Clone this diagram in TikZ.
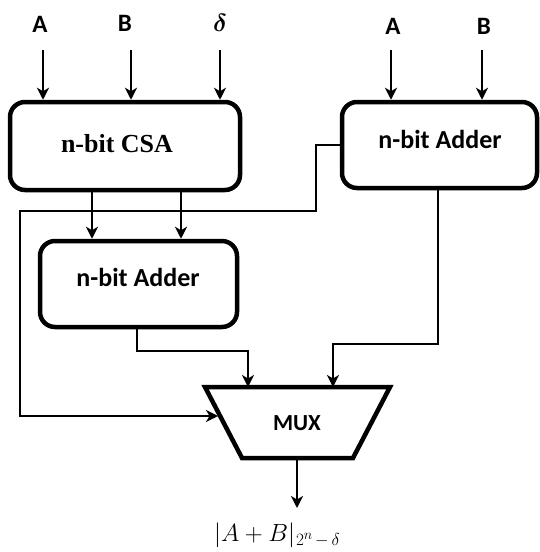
\documentclass[tikz,border=0pt]{standalone}
\usepackage{bm}
\usepackage{fontspec}
\setmainfont{Liberation Serif}
\newfontfamily\calfont{Carlito}
\usetikzlibrary{arrows.meta}
\tikzset{
  blk/.style={draw, line width=4.5pt, rounded corners=15pt, inner sep=0pt},
  arr/.style={line width=1.9pt, -{Stealth[length=12pt, width=12pt, inset=3.5pt]}},
  warr/.style={line width=1.5pt, -{Stealth[length=12pt, width=12pt, inset=3.5pt]}},
  inlab/.style={font=\calfont\bfseries\fontsize{25}{29}\selectfont, anchor=base, inner sep=0pt},
  cal/.style={font=\calfont\bfseries\fontsize{26}{30}\selectfont, anchor=base, inner sep=0pt},
  tms/.style={font=\bfseries\fontsize{26}{30}\selectfont, anchor=base, inner sep=0pt},
}
\newcommand{\subsz}[1]{\fontsize{#1}{#1}\selectfont}
\begin{document}
\begin{tikzpicture}[x=1pt, y=-1pt]
\useasboundingbox (0,0) rectangle (539,552);
% boxes
\node[blk, minimum width=230pt, minimum height=88pt] (csa) at (125,146) {};
\node[blk, minimum width=195pt, minimum height=86pt] (addR) at (439.5,145) {};
\node[blk, minimum width=197pt, minimum height=86pt] (addL) at (138.5,284) {};
\node[tms] (csat) at (117,152) {n-bit CSA};
\node[cal] (addRt) at (440,148) {n-bit Adder};
\node[cal] (addLt) at (138,286) {n-bit Adder};
% MUX
\coordinate (m1) at (205,387);
\coordinate (m2) at (390,387);
\coordinate (m3) at (353,458);
\coordinate (m4) at (242,458);
\draw[line width=4.5pt, line join=miter] (m1) -- (m2) -- (m3) -- (m4) -- cycle;
\node[font=\calfont\bfseries\fontsize{23}{27}\selectfont, anchor=base, inner sep=0pt] (muxt) at (297,430) {MUX};
% input labels
\node[inlab] (la1) at (40,32) {A};
\node[inlab] (lb1) at (125,31) {B};
\node[anchor=base, inner sep=0pt, font=\fontsize{25}{29}\selectfont] (ld1) at (220,31) {$\bm{\delta}$};
\node[inlab] (la2) at (393,34) {A};
\node[inlab] (lb2) at (484,34) {B};
% input arrows
\coordinate (ia1) at (43,50);
\coordinate (ib1) at (131,50);
\coordinate (id1) at (220,50);
\coordinate (ia2) at (391,50);
\coordinate (ib2) at (482,50);
\draw[arr] (ia1) -- (ia1 |- csa.north);
\draw[arr] (ib1) -- (ib1 |- csa.north);
\draw[arr] (id1) -- (id1 |- csa.north);
\draw[arr] (ia2) -- (ia2 |- addR.north);
\draw[arr] (ib2) -- (ib2 |- addR.north);
% CSA to lower adder
\coordinate (c1) at (92,0);
\coordinate (c2) at (181,0);
\draw[arr] (c1 |- csa.south) -- (c1 |- addL.north);
\draw[arr] (c2 |- csa.south) -- (c2 |- addL.north);
% right adder to MUX left input
\coordinate (r1) at (316,145);
\coordinate (r2) at (316,211);
\coordinate (r3) at (20,211);
\coordinate (r4) at (20,416);
\coordinate (mL) at (218,416);
\draw[warr] (addR.west |- r1) -- (r1) -- (r2) -- (r3) -- (r4) -- (mL);
% lower adder to MUX
\coordinate (l1) at (137,351);
\coordinate (l2) at (248,351);
\draw[warr] (l1 |- addL.south) -- (l1) -- (l2) -- (l2 |- m1);
% right adder bottom to MUX
\coordinate (q1) at (438,344);
\coordinate (q2) at (333,344);
\draw[warr] (q1 |- addR.south) -- (q1) -- (q2) -- (q2 |- m1);
% output
\coordinate (o1) at (297,458);
\coordinate (o2) at (297,508);
\draw[arr] (o1) -- (o2);
\node[anchor=base west, inner sep=0pt, font=\fontsize{25}{30}\selectfont] (out) at (214,541)
  {$|A+B|$\kern1pt\raisebox{-4pt}{\subsz{19}$2$\raisebox{6pt}{\subsz{14}$n$}$\,{-}\,\delta$}};
\end{tikzpicture}
\end{document}
